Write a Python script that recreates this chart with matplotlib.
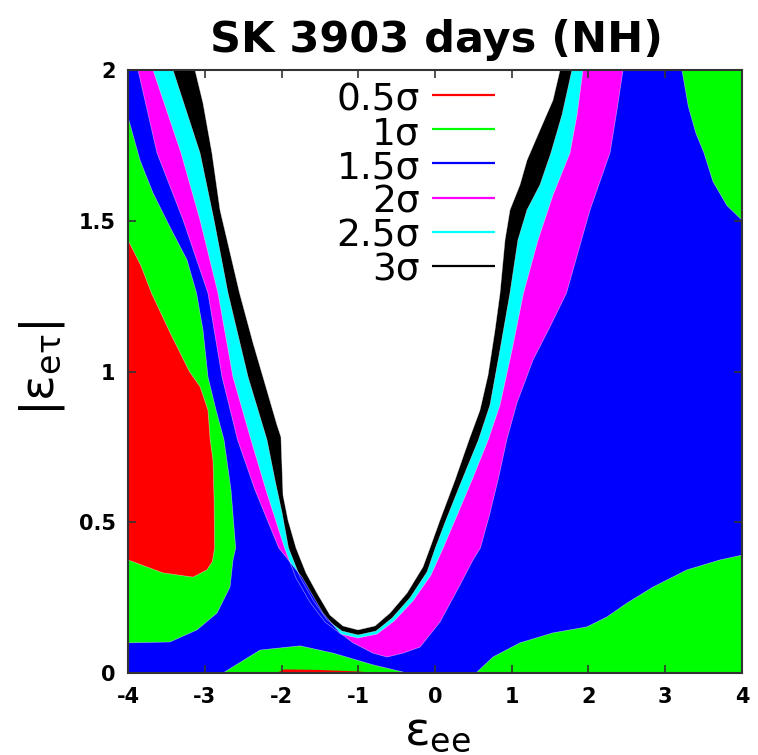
import matplotlib
matplotlib.use("Agg")
import matplotlib.pyplot as plt
from matplotlib.patches import Polygon

plt.rcParams['mathtext.fontset'] = 'dejavusans'

XMIN, XMAX = -4, 4
YMIN, YMAX = 0, 2

# contour boundaries (eps_ee, |eps_etau|), each read left to right
sig3_x = [-3.127, -3.023, -2.906, -2.801, -2.546, -2.371, -2.241, -2.059, -2.007, -1.980,
          -1.915, -1.811, -1.681, -1.537, -1.368, -1.199, -1.003, -0.782, -0.586, -0.365,
          -0.156, -0.065, 0.065, 0.261, 0.443, 0.586, 0.691, 0.782, 0.847, 0.912,
          0.977, 1.107, 1.199, 1.368, 1.537, 1.629]
sig3_y = [2.0, 1.891, 1.725, 1.536, 1.260, 1.095, 0.982, 0.823, 0.783, 0.590,
          0.507, 0.415, 0.332, 0.265, 0.192, 0.156, 0.143, 0.156, 0.199, 0.265,
          0.352, 0.415, 0.507, 0.640, 0.773, 0.872, 0.988, 1.138, 1.260, 1.436,
          1.536, 1.619, 1.701, 1.801, 1.900, 2.0]

sig25_x = [-3.414, -3.062, -2.880, -2.697, -2.436, -2.189, -2.085, -1.993, -1.909, -1.759,
           -1.590, -1.407, -1.212, -1.003, -0.769, -0.560, -0.326, -0.104, 0.005, 0.143,
           0.352, 0.566, 0.717, 0.847, 0.977, 1.081, 1.199, 1.368, 1.511, 1.655, 1.785]
sig25_y = [2.0, 1.725, 1.503, 1.260, 0.982, 0.773, 0.640, 0.531, 0.415, 0.318,
           0.242, 0.176, 0.139, 0.126, 0.139, 0.182, 0.249, 0.335, 0.415, 0.507,
           0.640, 0.773, 0.889, 1.071, 1.260, 1.436, 1.536, 1.619, 1.725, 1.851, 2.0]

sig2_x = [-3.674, -3.309, -3.062, -2.827, -2.632, -2.397, -2.202, -1.960, -1.811, -1.629,
          -1.433, -1.225, -1.003, -0.756, -0.534, -0.287, -0.052, 0.107, 0.261, 0.482,
          0.693, 0.847, 1.003, 1.153, 1.342, 1.537, 1.759, 1.850, 1.928]
sig2_y = [2.0, 1.725, 1.503, 1.260, 0.982, 0.773, 0.607, 0.415, 0.315, 0.235,
          0.169, 0.129, 0.116, 0.129, 0.172, 0.239, 0.325, 0.415, 0.507, 0.640,
          0.773, 0.889, 1.071, 1.260, 1.436, 1.585, 1.725, 1.851, 2.0]

sig15_x = [-3.870, -3.622, -3.283, -2.958, -2.775, -2.572, -2.345, -2.036, -1.733, -1.459,
           -1.238, -1.068, -0.808, -0.625, -0.417, -0.195, 0.065, 0.326, 0.495, 0.592,
           0.710, 0.821, 0.938, 1.068, 1.277, 1.498, 1.713, 2.020, 2.280, 2.371, 2.450]
sig15_y = [2.0, 1.725, 1.503, 1.260, 0.982, 0.773, 0.607, 0.415, 0.318, 0.199,
           0.133, 0.100, 0.066, 0.053, 0.066, 0.086, 0.169, 0.292, 0.375, 0.415,
           0.524, 0.640, 0.776, 0.896, 1.038, 1.148, 1.260, 1.536, 1.725, 1.867, 2.0]

# 1 sigma islands
g_left_x = [-4.0, -3.844, -3.674, -3.453, -3.231, -3.107, -3.023, -2.958, -2.853, -2.749,
            -2.658, -2.597, -2.632, -2.671, -2.840, -3.101, -3.453, -4.0]
g_left_y = [1.844, 1.701, 1.592, 1.479, 1.370, 1.260, 1.138, 0.982, 0.872, 0.773,
            0.607, 0.415, 0.375, 0.285, 0.199, 0.143, 0.103, 0.100]
g_top_x = [3.218, 3.300, 3.400, 3.505, 3.622, 3.805, 4.0]
g_top_y = [2.0, 1.880, 1.790, 1.725, 1.630, 1.550, 1.502]
g_right_x = [0.534, 0.756, 1.107, 1.537, 1.980, 2.241, 2.502, 2.840, 3.283, 3.713, 4.0]
g_right_y = [0.0, 0.053, 0.100, 0.133, 0.153, 0.186, 0.232, 0.285, 0.342, 0.375, 0.391]
g_mid_x = [-2.762, -2.280, -1.759, -1.329, -0.808, -0.365]
g_mid_y = [0.0, 0.076, 0.090, 0.066, 0.027, 0.0]

# 0.5 sigma islands
r_left_x = [-4.0, -3.83, -3.694, -3.45, -3.20, -3.06, -2.958, -2.929, -2.893, -2.878,
            -2.872, -2.90, -2.971, -3.153, -3.544, -4.0]
r_left_y = [1.436, 1.35, 1.260, 1.128, 1.00, 0.949, 0.872, 0.773, 0.706, 0.574,
            0.415, 0.37, 0.342, 0.318, 0.332, 0.375]
r_mid_x = [-2.07, -1.96, -1.5, -1.0, -0.75]
r_mid_y = [0.0, 0.012, 0.010, 0.005, 0.0]

levels = ['0.5σ', '1σ', '1.5σ', '2σ', '2.5σ', '3σ']
colors = ['#ff0000', '#00ff00', '#0000ff', '#ff00ff', '#00ffff', '#000000']


def outside_u(cx, cy):
    # everything in the box except the region above the curve
    return [(XMIN, YMAX)] + list(zip(cx, cy)) + [(XMAX, YMAX), (XMAX, YMIN), (XMIN, YMIN)]


fig = plt.figure(figsize=(7.58, 7.55), dpi=100)
ax = fig.add_axes([128 / 758, 82 / 755, 614 / 758, 603 / 755])

fills = [
    (outside_u(sig3_x, sig3_y), colors[5]),
    (outside_u(sig25_x, sig25_y), colors[4]),
    (outside_u(sig2_x, sig2_y), colors[3]),
    (outside_u(sig15_x, sig15_y), colors[2]),
    (list(zip(g_left_x, g_left_y)), colors[1]),
    (list(zip(g_top_x, g_top_y)) + [(XMAX, YMAX)], colors[1]),
    (list(zip(g_right_x, g_right_y)) + [(XMAX, YMIN)], colors[1]),
    (list(zip(g_mid_x, g_mid_y)), colors[1]),
    (list(zip(r_left_x, r_left_y)), colors[0]),
    (list(zip(r_mid_x, r_mid_y)), colors[0]),
]
for verts, c in fills:
    ax.add_patch(Polygon(verts, closed=True, facecolor=c, edgecolor='none', lw=0))

# thin light outlines along each contour
for cx, cy in [(sig3_x, sig3_y), (sig25_x, sig25_y), (sig2_x, sig2_y), (sig15_x, sig15_y),
               (g_left_x, g_left_y), (g_top_x, g_top_y), (g_right_x, g_right_y),
               (g_mid_x, g_mid_y), (r_left_x, r_left_y)]:
    ax.plot(cx, cy, color='white', lw=0.5, alpha=0.5)

ax.set_xlim(XMIN, XMAX)
ax.set_ylim(YMIN, YMAX)
ax.set_xticks(range(-4, 5))
ax.set_xticklabels([str(v) for v in range(-4, 5)])
ax.set_yticks([0, 0.5, 1, 1.5, 2])
ax.set_yticklabels(['0', '0.5', '1', '1.5', '2'])
ax.tick_params(direction='in', length=6, width=1.2, color='#333333',
               top=True, right=True, labelsize=15)
ax.tick_params(axis='x', pad=10)
ax.tick_params(axis='y', pad=9)
for lab in ax.get_xticklabels() + ax.get_yticklabels():
    lab.set_fontweight('bold')
for sp in ax.spines.values():
    sp.set_color('#333333')
    sp.set_linewidth(1.5)

# key, stacked under the top edge
for i, (lab, c) in enumerate(zip(levels, colors)):
    yk = 0.958 - i * 0.0565
    ax.plot([0.4951, 0.5977], [yk, yk], color=c, lw=1.6, transform=ax.transAxes,
            solid_capstyle='butt')
    ax.text(0.4756, yk - 0.025, lab, fontsize=27, ha='right', va='baseline',
            transform=ax.transAxes)

fig.text(437 / 758, 1 - 52 / 755, 'SK 3903 days (NH)', fontsize=31, fontweight='bold',
         ha='center', va='baseline')
fig.text(437 / 758, 1 - 745 / 755, r'$\mathrm{ε}_{\mathrm{ee}}$', fontsize=34,
         ha='center', va='baseline')
fig.text(42 / 758, 1 - 368 / 755, r'$|\mathrm{ε}_{\mathrm{eτ}}|$', fontsize=34,
         ha='center', va='center', rotation=90)

fig.savefig('out.png', dpi=100)
